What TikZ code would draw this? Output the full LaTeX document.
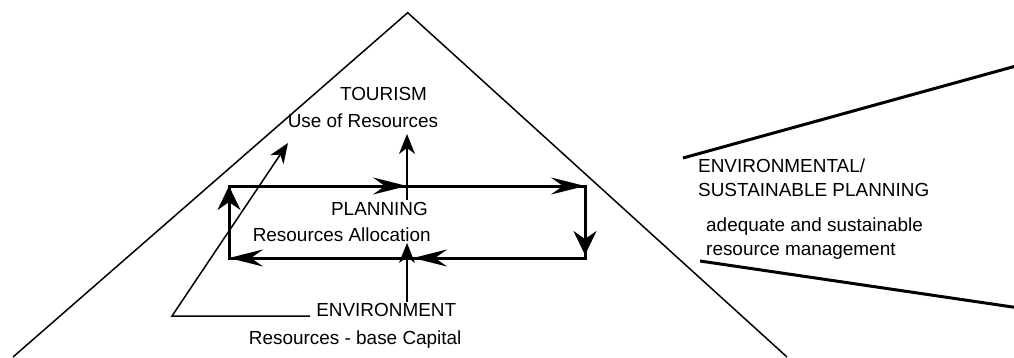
\documentclass[tikz,border=0pt]{standalone}
\usepackage{fontspec}
\setmainfont{Liberation Sans}
\usetikzlibrary{arrows.meta}
\begin{document}
\begin{tikzpicture}[x=1bp,y=-1bp,
  txt/.style={inner sep=0pt, font=\fontsize{19}{24}\selectfont},
  thinline/.style={line width=1.5bp},
  thickline/.style={line width=3bp},
  harrow/.style={thickline, -{Stealth[length=34bp,width=17bp,inset=12bp]}},
  varrow/.style={thickline, -{Stealth[length=24bp,width=23bp,inset=8bp]}},
  tarrow/.style={thinline, -{Stealth[length=20bp,width=16bp,inset=6bp]}},
]
\useasboundingbox (0,0) rectangle (1014,357);
\clip (0,0) rectangle (1014,357);

% pyramid outline
\coordinate (apex) at (407.7,12.7);
\coordinate (baseL) at (13,357);
\coordinate (baseR) at (787,357);
\draw[thinline, line join=miter] (baseL) -- (apex) -- (baseR);

% labels inside the pyramid
\node[txt, anchor=base] (tourism)  at (383.5,100) {TOURISM};
\node[txt, anchor=base] (use)      at (363,127.5) {Use of Resources};
\node[txt, anchor=base] (planning) at (379.5,215) {PLANNING};
\node[txt, anchor=base] (alloc)    at (341.7,241) {Resources Allocation};
\node[txt, anchor=base] (environ)  at (386.2,316) {ENVIRONMENT};
\node[txt, anchor=base] (capital)  at (355.2,344.5) {Resources - base Capital};

% planning cycle
\coordinate (tl) at (229,186);
\coordinate (tm) at (407,186);
\coordinate (tr) at (585,186);
\coordinate (rd) at (585,255);
\coordinate (br) at (585,258);
\coordinate (bm) at (413,258);
\coordinate (bl) at (229,258);
\draw[thickline, line join=miter] (tl) -- (tr) -- (br) -- (bl) -- cycle;
\draw[harrow] (tl) -- (tm);
\draw[harrow] (tm) -- (tr);
\draw[varrow] (tr) -- (rd);
\draw[harrow] (br) -- (bm);
\draw[harrow] (bm) -- (bl);
\draw[varrow] (bl) -- (tl);

% links between the levels
\coordinate (planTop) at (407,200);
\coordinate (useTip)  at (407,134);
\coordinate (envTop)  at (407,302);
\coordinate (planBot) at (407,243);
\draw[tarrow] (planTop) -- (useTip);
\draw[tarrow] (envTop) -- (planBot);

\coordinate (envLine) at (310,316);
\coordinate (corner)  at (172,316);
\coordinate (tourTip) at (288,143);
\draw[tarrow, line join=miter] (envLine) -- (corner) -- (tourTip);

% sustainable planning wedge
\coordinate (wTopL) at (683,158);
\coordinate (wTopR) at (1016,66);
\coordinate (wBotL) at (700,261);
\coordinate (wBotR) at (1016,307.5);
\draw[thickline] (wTopL) -- (wTopR);
\draw[thickline] (wBotL) -- (wBotR);

\node[txt, anchor=base west] (envpl)  at (698,172.7) {ENVIRONMENTAL/};
\node[txt, anchor=base west] (sustpl) at (698,196.7) {SUSTAINABLE PLANNING};
\node[txt, anchor=base west] (adeq)   at (706,231.7) {adequate and sustainable};
\node[txt, anchor=base west] (resm)   at (706,255.5) {resource management};
\end{tikzpicture}
\end{document}
